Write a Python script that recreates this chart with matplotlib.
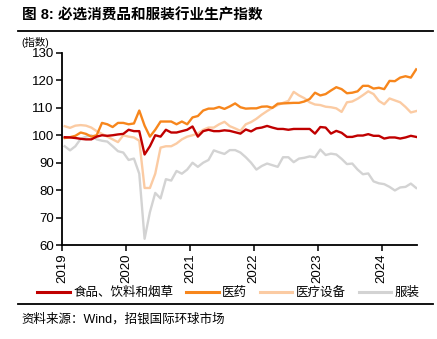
import numpy as np
import matplotlib
matplotlib.use("Agg")
import matplotlib.pyplot as plt
from matplotlib.lines import Line2D

plt.rcParams['font.family'] = ['Liberation Sans', 'Noto Sans CJK SC', 'DejaVu Sans']

# monthly, Jan 2019 .. Jul 2024
food = [99.3, 99.2, 99.0, 98.7, 98.5, 98.5, 99.5, 100.0, 99.8, 100.0, 100.3, 100.5,
        102.0, 101.5, 101.5, 93.0, 96.0, 100.0, 99.5, 102.0, 101.0, 101.0, 101.5, 102.0,
        103.2, 99.5, 101.5, 102.0, 101.5, 101.5, 101.8, 101.6, 101.1, 100.6, 102.1, 101.4,
        102.5, 102.8, 103.4, 102.8, 102.3, 102.3, 102.0, 102.3, 102.3, 102.3, 102.3, 100.6,
        103.0, 102.8, 100.6, 101.6, 100.9, 99.4, 99.4, 99.9, 99.9, 100.4, 99.8, 99.8,
        98.8, 99.2, 99.2, 98.8, 99.2, 99.8, 99.4]
pharma = [99.0, 99.3, 99.8, 101.0, 100.5, 99.5, 100.0, 104.5, 104.0, 103.0, 104.5, 104.5,
          104.0, 104.3, 109.0, 103.5, 99.5, 102.0, 105.0, 105.0, 105.0, 104.0, 105.0, 104.0,
          106.5, 107.0, 109.0, 109.7, 109.7, 110.3, 109.6, 110.5, 111.6, 110.2, 109.7, 109.8,
          109.8, 110.4, 110.5, 110.0, 111.5, 111.6, 111.7, 111.8, 111.8, 112.3, 113.2, 115.5,
          114.5, 115.0, 116.3, 117.5, 116.8, 115.3, 115.5, 116.0, 118.0, 118.0, 117.0, 117.3,
          116.8, 119.8, 119.7, 121.0, 121.5, 121.0, 124.0]
devices = [103.3, 102.7, 103.5, 103.7, 103.5, 102.8, 101.5, 100.5, 99.5, 98.5, 97.5, 100.0,
           99.5, 99.2, 98.0, 80.8, 80.8, 86.0, 95.5, 96.0, 96.0, 97.0, 98.5, 99.5,
           100.0, 100.6, 102.0, 102.8, 102.8, 104.0, 104.9, 103.3, 102.5, 101.6, 104.0, 104.8,
           106.0, 107.5, 108.8, 110.0, 111.0, 111.8, 112.5, 115.8, 114.5, 113.5, 112.0, 111.2,
           111.0, 110.4, 110.2, 109.8, 108.5, 112.0, 112.3, 113.3, 114.6, 116.0, 115.0, 112.5,
           111.3, 113.4, 112.7, 112.0, 110.3, 108.3, 108.8]
apparel = [96.0, 94.5, 96.0, 98.7, 99.5, 100.0, 98.5, 98.0, 97.7, 96.0, 94.2, 93.7,
           91.0, 91.5, 86.0, 62.3, 72.0, 79.0, 77.0, 84.0, 83.5, 87.0, 86.0, 87.5,
           90.0, 88.5, 90.0, 91.0, 94.5, 93.8, 93.2, 94.6, 94.6, 93.7, 92.0, 90.0,
           87.5, 88.8, 89.7, 89.1, 88.5, 92.0, 92.0, 90.2, 91.5, 91.8, 92.3, 92.0,
           94.8, 92.8, 93.3, 93.0, 91.4, 89.5, 89.7, 87.5, 85.8, 86.1, 83.2, 82.5,
           82.2, 81.2, 79.9, 81.0, 81.2, 82.4, 80.8]

labels = ['食品、饮料和烟草', '医药', '医疗设备', '服装']
colors = ['#C00000', '#F7861C', '#FBCBA3', '#D3D3D3']
years = [2019, 2020, 2021, 2022, 2023, 2024]

x = 2019 + (np.arange(len(food)) + 0.5) / 12.0

fig = plt.figure(figsize=(4.37, 3.39), dpi=100)
ax = fig.add_axes([0.142, 0.277, 0.813, 0.567])

# draw back to front
ax.plot(x, apparel, color=colors[3], lw=1.7, solid_joinstyle='round')
ax.plot(x, devices, color=colors[2], lw=1.7, solid_joinstyle='round')
ax.plot(x, pharma, color=colors[1], lw=1.7, solid_joinstyle='round')
ax.plot(x, food, color=colors[0], lw=1.7, solid_joinstyle='round')

ax.set_xlim(2019, 2024.56)
ax.set_ylim(60, 130)
ax.set_yticks(range(60, 131, 10))
ax.set_xticks(years)
ax.set_xticklabels([str(y) for y in years], rotation=90)
ax.tick_params(axis='both', direction='out', length=4, width=1.1, labelsize=9.5, pad=2)
for s in ['top', 'right']:
    ax.spines[s].set_visible(False)
for s in ['left', 'bottom']:
    ax.spines[s].set_linewidth(1.3)

fig.text(0.05, 0.874, '(指数)', fontsize=7.5, va='center', ha='left')

# title and rules
fig.text(0.05, 0.955, '图 8: 必选消费品和服装行业生产指数', fontsize=10.5, fontweight='bold',
         va='center', ha='left')
fig.add_artist(Line2D([0.042, 0.99], [0.909, 0.909], color='black', lw=1.3))
fig.add_artist(Line2D([0.042, 0.99], [0.103, 0.103], color='black', lw=1.3))

handles = [Line2D([], [], color=c, lw=2.2) for c in colors]
fig.legend(handles, labels, loc='center', bbox_to_anchor=(0.523, 0.136), ncol=4,
           frameon=False, fontsize=9, handlelength=2.6, handletextpad=0.3,
           columnspacing=1.0)

fig.text(0.05, 0.057, '资料来源：Wind，招银国际环球市场', fontsize=9, va='center', ha='left')

fig.savefig('out.png', dpi=100)
